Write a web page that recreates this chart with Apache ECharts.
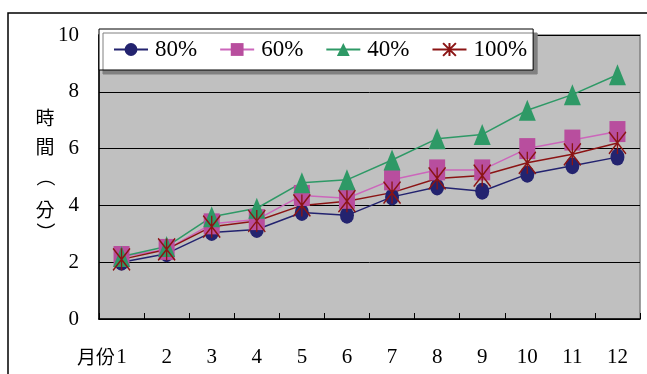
<!DOCTYPE html>
<html>
<head>
<meta charset="utf-8">
<script src="https://cdn.jsdelivr.net/npm/echarts@6/dist/echarts.min.js"></script>
<style>
html,body{margin:0;padding:0;background:#fff;}
#c{width:647px;height:374px;}
</style>
</head>
<body>
<div id="c"></div>
<script>
const months = ['1','2','3','4','5','6','7','8','9','10','11','12'];
const yTicks = [0, 2, 4, 6, 8, 10];
const s80 = [2.0, 2.3, 3.05, 3.15, 3.75, 3.65, 4.3, 4.65, 4.5, 5.1, 5.4, 5.7];
const s60 = [2.2, 2.45, 3.35, 3.5, 4.35, 4.25, 4.9, 5.25, 5.25, 6.0, 6.3, 6.6];
const s40 = [2.2, 2.55, 3.6, 3.9, 4.8, 4.9, 5.6, 6.35, 6.5, 7.35, 7.9, 8.6];
const s100 = [2.1, 2.45, 3.25, 3.45, 4.0, 4.15, 4.45, 4.95, 5.05, 5.5, 5.8, 6.2];
const seriesNames = ['80%', '60%', '40%', '100%'];

const serif = 'Liberation Serif';

const chart = echarts.init(document.getElementById('c'), null, {renderer: 'canvas'});

function mkSeries(name, data, color, symbol, size, lineColor, extra) {
  return Object.assign({
    name: name,
    type: 'line',
    data: data,
    symbol: symbol,
    symbolSize: size,
    showSymbol: true,
    animation: false,
    lineStyle: {color: lineColor || color, width: 1.5},
    itemStyle: {color: color, borderWidth: 0, opacity: 1}
  }, extra || {});
}

const nameFont = '19px "Noto Sans CJK TC"';

const option = {
  animation: false,
  backgroundColor: '#fff',
  grid: {
    left: 99, right: 7, top: 35, bottom: 55,
    show: true, backgroundColor: '#C0C0C0', borderColor: '#808080', borderWidth: 1.5,
    outerBoundsMode: 'none'
  },
  legend: {
    data: seriesNames,
    left: 99, top: 29,
    orient: 'horizontal',
    backgroundColor: '#fff',
    borderColor: '#000', borderWidth: 1,
    shadowColor: '#808080', shadowOffsetX: 4, shadowOffsetY: 4, shadowBlur: 0,
    padding: [9, 6, 9, 14],
    itemWidth: 34, itemHeight: 16, itemGap: 22,
    textStyle: {fontFamily: serif, fontSize: 23, color: '#000', padding: [0, 0, 0, 2]}
  },
  xAxis: {
    type: 'category',
    data: months,
    boundaryGap: true,
    axisLine: {show: true, lineStyle: {color: '#000', width: 1.5}},
    axisTick: {show: true, inside: true, length: 6, alignWithLabel: false, lineStyle: {color: '#000', width: 1}},
    axisLabel: {fontFamily: serif, fontSize: 21, color: '#000', margin: 28}
  },
  yAxis: {
    type: 'value',
    min: yTicks[0], max: yTicks[yTicks.length - 1], interval: 2,
    axisLine: {show: true, lineStyle: {color: '#000', width: 1.5}},
    axisTick: {show: false},
    splitLine: {show: true, lineStyle: {color: '#000', width: 1}},
    axisLabel: {fontFamily: serif, fontSize: 21, color: '#000', margin: 20}
  },
  graphic: [
    {type: 'rect', shape: {x: 8, y: 13, width: 700, height: 400}, style: {fill: 'none', stroke: '#000', lineWidth: 1.5}, z: -10, silent: true},
    {type: 'text', x: 115, y: 357, style: {text: '月份', font: nameFont, fill: '#000', align: 'right', verticalAlign: 'middle'}},
    {type: 'text', x: 45, y: 118, style: {text: '時', font: nameFont, fill: '#000', align: 'center', verticalAlign: 'middle'}},
    {type: 'text', x: 45, y: 147, style: {text: '間', font: nameFont, fill: '#000', align: 'center', verticalAlign: 'middle'}},
    {type: 'text', x: 45, y: 177, rotation: -Math.PI / 2, style: {text: '（', font: nameFont, fill: '#000', align: 'center', verticalAlign: 'middle'}},
    {type: 'text', x: 45, y: 210, style: {text: '分', font: nameFont, fill: '#000', align: 'center', verticalAlign: 'middle'}},
    {type: 'text', x: 45, y: 232, rotation: -Math.PI / 2, style: {text: '）', font: nameFont, fill: '#000', align: 'center', verticalAlign: 'middle'}}
  ],
  series: [
    mkSeries('80%', s80, '#23236F', 'circle', [14, 17]),
    mkSeries('60%', s60, '#B84E9E', 'rect', [16, 21], '#CC66BB'),
    mkSeries('40%', s40, '#2E9966', 'triangle', [17, 21]),
    mkSeries('100%', s100, '#8B1414', 'path://M0,0L10,10M10,0L0,10M5,0L5,10', [17, 22], null,
      {itemStyle: {color: '#8B1414', borderColor: '#8B1414', borderWidth: 1.5}})
  ]
};
chart.setOption(option);
</script>
</body>
</html>
